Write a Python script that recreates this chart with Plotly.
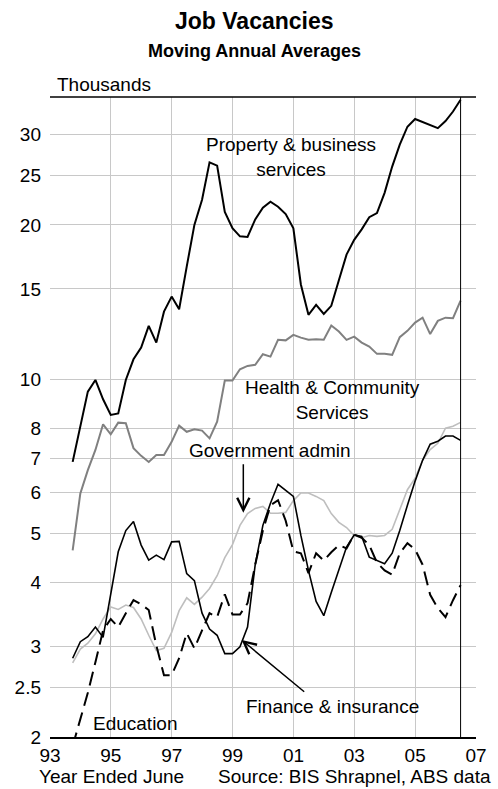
import pandas as pd
import plotly.graph_objects as go

# Quarterly observations, Sep-1993 to Jun-2006 (moving annual averages, thousands)
quarters = pd.date_range("1993-09-30", "2006-06-30", freq="QE")

property_services = [6.89, 8.07, 9.45, 9.96, 9.13, 8.51, 8.57, 9.96, 10.93, 11.52,
                     12.7, 11.78, 13.54, 14.49, 13.69, 16.58, 20.0, 22.4, 26.5, 26.1,
                     21.2, 19.7, 19.0, 18.95, 20.5, 21.6, 22.2, 21.7, 21.0, 19.7,
                     15.3, 13.35, 13.96, 13.4, 13.9, 15.6, 17.5, 18.7, 19.6, 20.7,
                     21.1, 23.1, 26.0, 28.7, 31.1, 32.2, 31.8, 31.3, 30.9, 31.9,
                     33.3, 35.1]
health = [4.63, 5.98, 6.64, 7.27, 8.16, 7.80, 8.22, 8.20, 7.33, 7.08,
          6.89, 7.11, 7.11, 7.54, 8.11, 7.89, 7.98, 7.93, 7.66, 8.26,
          9.93, 9.93, 10.45, 10.61, 10.66, 11.18, 11.06, 11.93, 11.9, 12.2,
          12.05, 11.93, 11.96, 11.93, 12.72, 12.38, 11.93, 12.1, 11.78, 11.57,
          11.2, 11.2, 11.15, 12.07, 12.42, 12.89, 13.18, 12.24, 12.99, 13.18,
          13.15, 14.23]
gov_admin = [2.79, 2.97, 3.05, 3.18, 3.40, 3.59, 3.55, 3.62, 3.58, 3.40,
             3.16, 2.95, 2.98, 3.20, 3.53, 3.74, 3.63, 3.75, 3.90, 4.13,
             4.48, 4.75, 5.18, 5.46, 5.59, 5.64, 5.47, 5.47, 5.49, 5.79,
             5.99, 5.99, 5.90, 5.79, 5.46, 5.25, 5.13, 4.95, 4.90, 4.95,
             4.93, 4.95, 5.09, 5.55, 6.08, 6.40, 6.94, 7.28, 7.49, 8.02,
             8.09, 8.23]
finance = [2.85, 3.07, 3.14, 3.28, 3.13, 3.83, 4.60, 5.06, 5.27, 4.74,
           4.43, 4.53, 4.44, 4.81, 4.82, 4.17, 4.04, 3.49, 3.25, 3.16,
           2.91, 2.91, 3.00, 3.28, 4.34, 5.18, 5.72, 6.23, 6.07, 5.90,
           4.95, 4.23, 3.68, 3.45, 3.83, 4.26, 4.70, 4.96, 4.93, 4.49,
           4.42, 4.36, 4.57, 5.06, 5.67, 6.32, 6.94, 7.46, 7.56, 7.74,
           7.74, 7.59]
education = [1.92, 2.17, 2.44, 2.80, 3.23, 3.40, 3.28, 3.49, 3.70, 3.63,
             3.54, 3.02, 2.64, 2.64, 2.85, 3.19, 2.98, 3.23, 3.49, 3.43,
             3.80, 3.47, 3.47, 3.65, 4.34, 5.06, 5.67, 5.80, 5.29, 4.61,
             4.57, 4.18, 4.57, 4.42, 4.59, 4.74, 4.67, 4.97, 4.90, 4.74,
             4.38, 4.23, 4.15, 4.57, 4.78, 4.65, 4.34, 3.79, 3.57, 3.43,
             3.70, 3.96]

x_ticks = ["1993-01-01", "1995-01-01", "1997-01-01", "1999-01-01",
           "2001-01-01", "2003-01-01", "2005-01-01", "2007-01-01"]
x_labels = ["93", "95", "97", "99", "01", "03", "05", "07"]
y_ticks = [2, 2.5, 3, 4, 5, 6, 7, 8, 10, 15, 20, 25, 30]
y_labels = ["2", "2.5", "3", "4", "5", "6", "7", "8", "10", "15", "20", "25", "30"]

INK = "#000000"
GRID = "#C8C8C8"
FONT = dict(family="'Liberation Sans', Arial, sans-serif", color=INK, size=19)

fig = go.Figure()
fig.add_trace(go.Scatter(x=quarters, y=property_services, mode="lines",
                         line=dict(color=INK, width=2)))
fig.add_trace(go.Scatter(x=quarters, y=health, mode="lines",
                         line=dict(color="#808080", width=2)))
fig.add_trace(go.Scatter(x=quarters, y=gov_admin, mode="lines",
                         line=dict(color="#BEBEBE", width=1.6)))
fig.add_trace(go.Scatter(x=quarters, y=finance, mode="lines",
                         line=dict(color=INK, width=1.6)))
fig.add_trace(go.Scatter(x=quarters, y=education, mode="lines",
                         line=dict(color=INK, width=2, dash="14px,7px")))

# top border and end-of-data marker
fig.add_shape(type="line", xref="paper", yref="paper", x0=0, x1=1, y0=1, y1=1,
              line=dict(color=INK, width=1.5))
fig.add_shape(type="line", xref="x", yref="paper", x0="2006-06-30", x1="2006-06-30",
              y0=0, y1=1, line=dict(color=INK, width=1))


def label(text, x, y, size=19, xanchor="center"):
    fig.add_annotation(text=text, xref="paper", yref="paper", x=x, y=y,
                       xanchor=xanchor, yanchor="middle", showarrow=False,
                       font=dict(FONT, size=size))


label("<b>Job Vacancies</b>", 0.481, 1.119, size=23)
label("<b>Moving Annual Averages</b>", 0.481, 1.072, size=18)
label("Thousands", 0.012, 1.019, xanchor="left")
label("Property & business<br>services", 0.566, 0.906)
label("Health & Community<br>Services", 0.664, 0.527)
label("Government admin", 0.516, 0.448)
label("Finance & insurance", 0.664, 0.047)
label("Education", 0.2007, 0.021)
label("Year Ended June", 0.144, -0.062)
label("Source: BIS Shrapnel, ABS data", 0.715, -0.062)

# pointer arrows
fig.add_annotation(text="", xref="paper", yref="paper", x=0.4538, y=0.3505,
                   ax=0, ay=-50, showarrow=True, arrowhead=5, arrowsize=1.6,
                   arrowwidth=1.5, arrowcolor=INK)
fig.add_annotation(text="", xref="paper", yref="paper", x=0.450, y=0.1516,
                   ax=64, ay=53, showarrow=True, arrowhead=5, arrowsize=1.6,
                   arrowwidth=1.5, arrowcolor=INK)

fig.update_layout(
    width=498, height=789,
    paper_bgcolor="white", plot_bgcolor="white",
    font=FONT,
    showlegend=False,
    margin=dict(l=50, r=22, t=97, b=52),
    xaxis=dict(
        type="date", range=["1993-01-01", "2007-01-01"],
        tickvals=x_ticks, ticktext=x_labels,
        showgrid=True, gridcolor=GRID, gridwidth=1,
        showline=True, linecolor=INK, linewidth=1.5,
        ticks="", ticklabelstandoff=0, zeroline=False,
    ),
    yaxis=dict(
        type="log", range=[0.30103, 1.5508],
        tickvals=y_ticks, ticktext=y_labels,
        showgrid=True, gridcolor=GRID, gridwidth=1,
        showline=False, ticks="", ticklabelstandoff=8, zeroline=False,
    ),
)

# drop the default page margin so the 498x789 figure fills the window exactly
fig.write_html("out.html", config={"displayModeBar": False},
               post_script="document.body.style.margin='0';")
